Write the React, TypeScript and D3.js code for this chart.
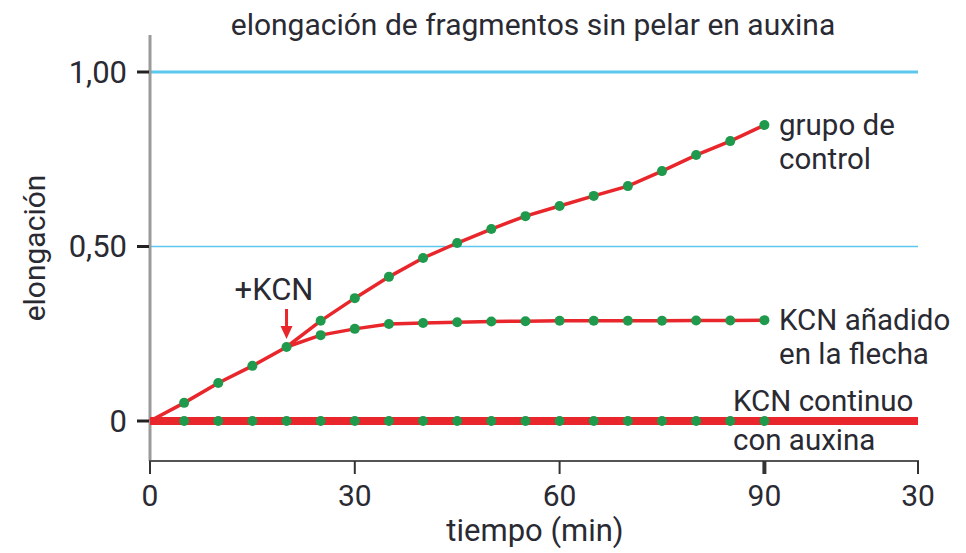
import { useRef, useEffect } from 'react'
import * as d3 from 'd3'

// minutes
const times = [0, 5, 10, 15, 20, 25, 30, 35, 40, 45, 50, 55, 60, 65, 70, 75, 80, 85, 90]
const control = [0, 0.052, 0.109, 0.158, 0.212, 0.287, 0.352, 0.413, 0.467, 0.51, 0.55, 0.587, 0.616, 0.645, 0.673, 0.716, 0.762, 0.802, 0.848]
const kcnTimes = [20, 25, 30, 35, 40, 45, 50, 55, 60, 65, 70, 75, 80, 85, 90]
const kcnAdded = [0.212, 0.246, 0.264, 0.278, 0.281, 0.283, 0.285, 0.286, 0.287, 0.287, 0.287, 0.287, 0.288, 0.288, 0.289]
const kcnContTimes = [5, 10, 15, 20, 25, 30, 35, 40, 45, 50, 55, 60, 65, 70, 75, 80, 85, 90]
const kcnCont = kcnContTimes.map(() => 0)
const xTicks = [0, 30, 60, 90, 112.5]
const xTickLabels = ['0', '30', '60', '90', '30']
const yTicks = [0, 0.5, 1]
const yTickLabels = ['0', '0,50', '1,00']
const kcnTime = 20

const FONT = 'Roboto, sans-serif'
const RED = '#e8262b'
const GREEN = '#1f9a4c'
const BLUE = '#5cc8ee'
const TEXT = '#2a2a33'

export default function App() {
  const svgRef = useRef<SVGSVGElement>(null)

  useEffect(() => {
    if (!svgRef.current) return
    const w = 966
    const h = 553
    const svg = d3.select(svgRef.current)
    svg.selectAll('*').remove()
    svg.attr('width', w).attr('height', h)

    const x = d3.scaleLinear().domain([0, 112.5]).range([150, 918])
    const y = d3.scaleLinear().domain([0, 1]).range([421, 72])

    // gridlines
    svg.append('line')
      .attr('x1', x(0)).attr('x2', x(112.5))
      .attr('y1', y(1)).attr('y2', y(1))
      .attr('stroke', BLUE).attr('stroke-width', 3)
    svg.append('line')
      .attr('x1', x(0)).attr('x2', x(112.5))
      .attr('y1', y(0.5)).attr('y2', y(0.5))
      .attr('stroke', BLUE).attr('stroke-width', 1.5)

    // y axis
    svg.append('line')
      .attr('x1', 150).attr('x2', 150).attr('y1', 35).attr('y2', 461)
      .attr('stroke', '#9a9a9a').attr('stroke-width', 3)
    yTicks.forEach((t, i) => {
      svg.append('line')
        .attr('x1', 137).attr('x2', 149).attr('y1', y(t)).attr('y2', y(t))
        .attr('stroke', '#222').attr('stroke-width', 3)
      svg.append('text')
        .attr('x', 127).attr('y', y(t)).attr('dy', '0.35em')
        .attr('text-anchor', 'end')
        .attr('font-family', FONT).attr('font-size', 31)
        .attr('fill', TEXT)
        .text(yTickLabels[i])
    })

    // x axis
    svg.append('line')
      .attr('x1', 149).attr('x2', 919).attr('y1', 461).attr('y2', 461)
      .attr('stroke', '#555').attr('stroke-width', 2)
    xTicks.forEach((t, i) => {
      svg.append('line')
        .attr('x1', x(t)).attr('x2', x(t)).attr('y1', 461).attr('y2', 474)
        .attr('stroke', '#333').attr('stroke-width', t === 90 ? 4 : 2)
      svg.append('text')
        .attr('x', x(t)).attr('y', 495).attr('dy', '0.35em')
        .attr('text-anchor', 'middle')
        .attr('font-family', FONT).attr('font-size', 30)
        .attr('fill', TEXT)
        .text(xTickLabels[i])
    })

    // axis titles
    svg.append('text')
      .attr('x', 535).attr('y', 530).attr('dy', '0.35em')
      .attr('text-anchor', 'middle')
      .attr('font-family', FONT).attr('font-size', 31)
      .attr('fill', TEXT)
      .text('tiempo (min)')
    svg.append('text')
      .attr('transform', 'translate(34,248) rotate(-90)')
      .attr('dy', '0.35em')
      .attr('text-anchor', 'middle')
      .attr('font-family', FONT).attr('font-size', 30)
      .attr('fill', TEXT)
      .text('elongación')
    svg.append('text')
      .attr('x', 533).attr('y', 24).attr('dy', '0.35em')
      .attr('text-anchor', 'middle')
      .attr('font-family', FONT).attr('font-size', 30)
      .attr('fill', TEXT)
      .text('elongación de fragmentos sin pelar en auxina')

    const line = d3.line<[number, number]>().x(d => x(d[0])).y(d => y(d[1]))

    // KCN continuo: thick line across whole axis
    svg.append('line')
      .attr('x1', x(0)).attr('x2', x(112.5))
      .attr('y1', y(0)).attr('y2', y(0))
      .attr('stroke', RED).attr('stroke-width', 8)

    svg.append('path')
      .attr('d', line(times.map((t, i) => [t, control[i]])) ?? '')
      .attr('fill', 'none').attr('stroke', RED).attr('stroke-width', 3.5)
    svg.append('path')
      .attr('d', line(kcnTimes.map((t, i) => [t, kcnAdded[i]])) ?? '')
      .attr('fill', 'none').attr('stroke', RED).attr('stroke-width', 3.5)

    const dots = (ts: number[], vs: number[]) => {
      svg.append('g').selectAll('circle')
        .data(ts.map((t, i) => [t, vs[i]]))
        .join('circle')
        .attr('cx', d => x(d[0])).attr('cy', d => y(d[1]))
        .attr('r', 5).attr('fill', GREEN)
    }
    dots(times.slice(1), control.slice(1))
    dots(kcnTimes.slice(1), kcnAdded.slice(1))
    dots(kcnContTimes, kcnCont)

    // arrow for +KCN
    const ax = x(kcnTime)
    svg.append('line')
      .attr('x1', ax).attr('x2', ax).attr('y1', 309).attr('y2', 330)
      .attr('stroke', RED).attr('stroke-width', 3)
    svg.append('path')
      .attr('d', `M${ax - 6},326 L${ax + 6},326 L${ax},339 Z`)
      .attr('fill', RED)
    svg.append('text')
      .attr('x', 274).attr('y', 289).attr('dy', '0.35em')
      .attr('text-anchor', 'middle')
      .attr('font-family', FONT).attr('font-size', 31)
      .attr('fill', TEXT)
      .text('+KCN')

    // series labels
    const label = (lx: number, ys: number[], lines: string[]) => {
      lines.forEach((s, i) => {
        svg.append('text')
          .attr('x', lx).attr('y', ys[i]).attr('dy', '0.35em')
          .attr('font-family', FONT).attr('font-size', 29.5)
          .attr('fill', TEXT)
          .text(s)
      })
    }
    label(779, [125, 159], ['grupo de', 'control'])
    label(779, [320, 354], ['KCN añadido', 'en la flecha'])
    label(733, [401, 440], ['KCN continuo', 'con auxina'])

    return () => {
      svg.selectAll('*').remove()
    }
  }, [])

  return (
    <div style={{ position: 'absolute', left: 0, top: 0, background: '#fff' }}>
      <svg ref={svgRef} />
    </div>
  )
}
